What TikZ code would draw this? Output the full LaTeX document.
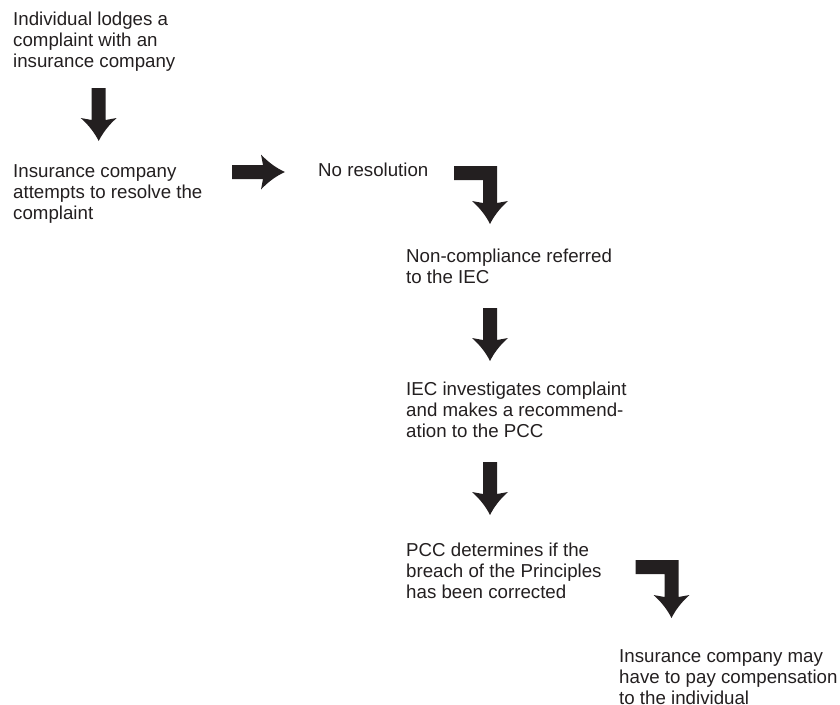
\documentclass[tikz,border=0pt]{standalone}
\usepackage{fontspec}
\setmainfont{Liberation Sans}
\begin{document}
\definecolor{ink}{HTML}{231F20}
\begin{tikzpicture}[x=1pt,y=-1pt,
  % the node's base anchor sits on the baseline of its last line
  step text/.style={anchor=base west,inner sep=0pt,align=left,text=ink,
    font=\fontsize{18.7}{21}\selectfont},
  blockdown/.pic={
    \fill[ink] (-7,0) -- (7,0) -- (7,32) -- (18,30)
      .. controls (10,37) and (4,45) .. (0,53)
      .. controls (-4,45) and (-10,37) .. (-18,30)
      -- (-7,32) -- cycle;},
  blockright/.pic={
    \fill[ink] (0,-7) -- (0,7) -- (31,7) -- (29,17.5)
      .. controls (36,10) and (44,4) .. (53,0)
      .. controls (44,-4) and (36,-10) .. (29,-17.5)
      -- (31,-7) -- cycle;},
  blockbent/.pic={
    \fill[ink] (-36,0) -- (7,0) -- (7,37) -- (18,35)
      .. controls (10,42) and (4,50) .. (0,58)
      .. controls (-4,50) and (-10,42) .. (-18,35)
      -- (-7,37) -- (-7,14) -- (-36,14) -- cycle;}]
\useasboundingbox (0,0) rectangle (840,704);

% the steps of the complaint process
\node[step text] (lodge) at (13,67)
  {Individual lodges a\\complaint with an\\insurance company};
\node[step text] (resolve) at (13,219)
  {Insurance company\\attempts to resolve the\\complaint};
\node[step text] (nores) at (318,176) {No resolution};
\node[step text] (refer) at (406,283)
  {Non-compliance referred\\to the IEC};
\node[step text] (invest) at (406,437)
  {IEC investigates complaint\\and makes a recommend-\\ation to the PCC};
\node[step text] (pcc) at (406,598)
  {PCC determines if the\\breach of the Principles\\has been corrected};
\node[step text] (comp) at (619,704)
  {Insurance company may\\have to pay compensation\\to the individual};

% block arrows between the steps
\pic at (98.7,88) {blockdown};
\pic at (232,172) {blockright};
\pic at (490,166) {blockbent};
\pic at (490,308) {blockdown};
\pic at (490,462) {blockdown};
\pic at (671.5,560) {blockbent};
\end{tikzpicture}
\end{document}
